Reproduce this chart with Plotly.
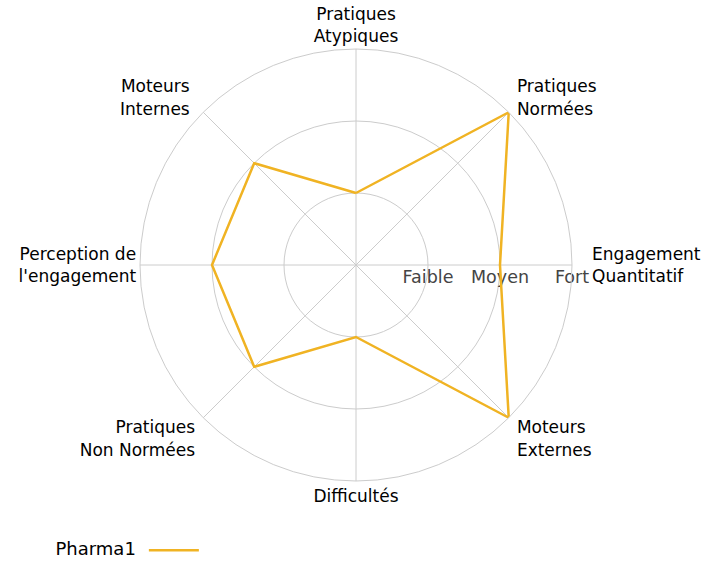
import plotly.graph_objects as go

# Data
NB = "\u00a0"
categories = [
    "Pratiques<br>Atypiques",
    NB + "Pratiques<br>" + NB + "Normées",
    NB * 3 + "Engagement<br>" + NB * 3 + "Quantitatif",
    NB + "Moteurs<br>" + NB + "Externes",
    "Difficultés",
    "Pratiques" + NB + "<br>Non Normées" + NB,
    "Perception de<br>l'engagement",
    "Moteurs" + NB * 2 + "<br>Internes" + NB * 2,
]
pharma1 = [1, 3, 2, 3, 1, 2, 2, 2]
level_vals = [1, 2, 3]
level_text = ["Faible", "Moyen", "Fort"]

GRID = "#cccccc"

fig = go.Figure()
fig.add_trace(go.Scatterpolar(
    r=pharma1 + pharma1[:1],
    theta=categories + categories[:1],
    mode="lines",
    line=dict(color="#f0b323", width=2.5),
    name=" ",
))

fig.update_layout(
    width=708,
    height=569,
    margin=dict(l=0, r=0, t=0, b=0),
    paper_bgcolor="white",
    font=dict(family="DejaVu Sans", size=17, color="black"),
    polar=dict(
        domain=dict(x=[140 / 708, 572 / 708], y=[88 / 569, 520 / 569]),
        bgcolor="white",
        angularaxis=dict(
            rotation=90,
            direction="clockwise",
            linecolor=GRID,
            linewidth=1,
            gridcolor=GRID,
            gridwidth=1,
            ticks="",
            tickfont=dict(size=17, color="black"),
        ),
        radialaxis=dict(
            range=[0, 3],
            angle=0,
            tickangle=0,
            tickvals=level_vals,
            ticktext=level_text,
            showline=False,
            ticks="",
            gridcolor=GRID,
            gridwidth=1,
            tickfont=dict(size=17.5, color="#444444"),
            layer="below traces",
        ),
    ),
    showlegend=True,
    legend=dict(
        orientation="h",
        x=57 / 708 - 0.005,
        y=0.0,
        xanchor="left",
        yanchor="bottom",
        itemwidth=50,
        title=dict(text="Pharma1", side="left", font=dict(size=18)),
        font=dict(size=18),
    ),
)

# drop the default page margin so the figure sits at the window's corner
fig.write_html(
    "out.html",
    config={"displayModeBar": False},
    post_script="document.body.style.margin='0px';",
)
